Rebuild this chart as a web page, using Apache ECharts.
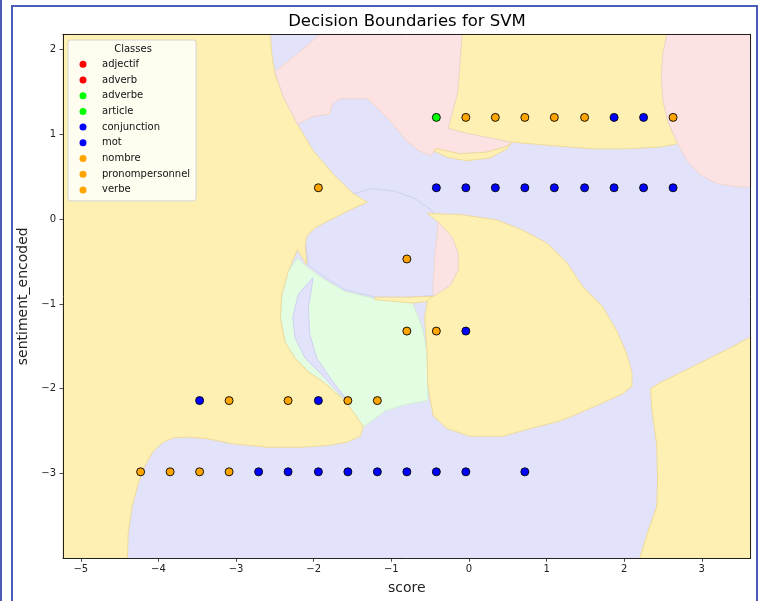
<!DOCTYPE html>
<html><head><meta charset="utf-8">
<script src="https://cdn.jsdelivr.net/npm/echarts@6/dist/echarts.min.js"></script>
<style>html,body{margin:0;padding:0;background:#fff}#c{width:764px;height:601px}</style>
</head><body><div id="c"></div>
<script>
// ---------- data ----------
const classNames = ['adjectif','adverb','adverbe','article','conjunction','mot','nombre','pronompersonnel','verbe'];
const xTickValues = [-5,-4,-3,-2,-1,0,1,2,3];
const yTickValues = [-3,-2,-1,0,1,2];
const xRange = [-5.23, 3.63];
const yRange = [-4.0, 2.18];

// sample points (score, sentiment_encoded) per class
const ptsAdjectif = [];
const ptsAdverb = [];
const ptsAdverbe = [[-0.42, 1.2]];
const ptsArticle = [];
const ptsConjunction = [];
const ptsMot = [
  [1.87,1.2],[2.25,1.2],
  [-0.42,0.37],[-0.04,0.37],[0.34,0.37],[0.72,0.37],[1.10,0.37],[1.49,0.37],[1.87,0.37],[2.25,0.37],[2.63,0.37],
  [-0.04,-1.32],
  [-3.47,-2.14],[-1.94,-2.14],
  [-2.71,-2.98],[-2.33,-2.98],[-1.94,-2.98],[-1.56,-2.98],[-1.18,-2.98],[-0.80,-2.98],[-0.42,-2.98],[-0.04,-2.98],[0.72,-2.98]
];
const ptsNombre = [];
const ptsPronompersonnel = [];
const ptsVerbe = [
  [-0.04,1.2],[0.34,1.2],[0.72,1.2],[1.10,1.2],[1.49,1.2],[2.63,1.2],
  [-1.94,0.37],
  [-0.80,-0.47],
  [-0.80,-1.32],[-0.42,-1.32],
  [-3.09,-2.14],[-2.33,-2.14],[-1.56,-2.14],[-1.18,-2.14],
  [-4.23,-2.98],[-3.85,-2.98],[-3.47,-2.98],[-3.09,-2.98]
];

// decision regions (boundary vertices in data units)
const regionEllipse = [[-2.11,-0.24],[-2.02,-0.07],[-1.81,0.11],[-1.53,0.29],[-1.25,0.36],[-0.95,0.33],[-0.69,0.24],[-0.50,0.12],[-0.37,-0.03],[-0.22,-0.21],[-0.14,-0.40],[-0.14,-0.60],[-0.24,-0.78],[-0.44,-0.90],[-0.79,-0.92],[-1.21,-0.92],[-1.60,-0.83],[-1.85,-0.69],[-2.07,-0.54]];
const regionCentreGreen = [[-2.09,-0.56],[-1.85,-0.72],[-1.60,-0.85],[-1.21,-0.94],[-0.73,-0.98],[-0.60,-1.28],[-0.54,-1.56],[-0.53,-1.84],[-0.53,-2.14],[-0.79,-2.18],[-1.08,-2.26],[-1.25,-2.38],[-1.36,-2.45],[-1.47,-2.30],[-1.60,-2.14],[-1.85,-1.94],[-2.07,-1.80],[-2.24,-1.64],[-2.37,-1.45],[-2.43,-1.16],[-2.41,-0.89],[-2.33,-0.62],[-2.21,-0.46]];
const regionCrescent = [[-2.01,-0.69],[-2.20,-0.89],[-2.27,-1.16],[-2.24,-1.40],[-2.11,-1.64],[-1.89,-1.84],[-1.69,-2.04],[-1.53,-2.18],[-1.60,-2.10],[-1.79,-1.87],[-1.96,-1.64],[-2.05,-1.36],[-2.07,-1.05],[-2.02,-0.77]];
const regionLeftYellow = [[-5.23,2.18],[-2.56,2.18],[-2.54,1.95],[-2.50,1.71],[-2.39,1.44],[-2.21,1.12],[-2.01,0.81],[-1.75,0.53],[-1.49,0.30],[-1.31,0.20],[-1.53,0.11],[-1.79,-0.01],[-1.98,-0.10],[-2.09,-0.20],[-2.11,-0.30],[-2.09,-0.54],[-2.21,-0.36],[-2.33,-0.62],[-2.41,-0.89],[-2.43,-1.16],[-2.37,-1.45],[-2.24,-1.64],[-2.07,-1.80],[-1.85,-1.94],[-1.60,-2.14],[-1.47,-2.30],[-1.36,-2.45],[-1.40,-2.56],[-1.57,-2.63],[-1.83,-2.67],[-2.18,-2.69],[-2.60,-2.69],[-3.04,-2.65],[-3.37,-2.59],[-3.63,-2.57],[-3.81,-2.58],[-3.94,-2.63],[-4.07,-2.74],[-4.20,-2.95],[-4.27,-3.15],[-4.34,-3.39],[-4.39,-3.70],[-4.40,-4.0],[-5.23,-4.0]];
const regionStripYellow = [[-1.21,-0.92],[-0.79,-0.92],[-0.46,-0.91],[-0.53,-0.97],[-0.73,-0.99],[-1.21,-0.95]];
const regionRightYellow = [[-0.54,0.07],[-0.08,0.05],[0.36,-0.01],[0.69,-0.13],[1.00,-0.28],[1.26,-0.51],[1.47,-0.80],[1.72,-1.03],[1.90,-1.31],[2.03,-1.58],[2.10,-1.81],[2.10,-1.97],[1.98,-2.06],[1.69,-2.18],[1.34,-2.32],[1.17,-2.38],[0.79,-2.47],[0.44,-2.56],[0.01,-2.56],[-0.28,-2.47],[-0.46,-2.32],[-0.50,-2.12],[-0.53,-1.94],[-0.54,-1.56],[-0.57,-1.16],[-0.53,-0.95],[-0.44,-0.90],[-0.24,-0.78],[-0.14,-0.60],[-0.14,-0.40],[-0.22,-0.21],[-0.40,-0.03]];
const regionPinkCrescent = [[-0.40,-0.03],[-0.22,-0.21],[-0.14,-0.40],[-0.14,-0.60],[-0.24,-0.78],[-0.46,-0.91],[-0.46,-0.77],[-0.44,-0.42],[-0.41,-0.19]];
const regionTopYellow = [[-0.09,2.18],[2.55,2.18],[2.50,1.95],[2.48,1.68],[2.50,1.40],[2.56,1.16],[2.65,0.97],[2.69,0.89],[2.46,0.85],[2.03,0.83],[1.60,0.83],[1.17,0.86],[0.79,0.89],[0.53,0.91],[0.31,0.95],[-0.03,1.01],[-0.27,1.07],[-0.22,1.24],[-0.15,1.48],[-0.12,1.80]];
const regionTopPink = [[-1.92,2.18],[-0.09,2.18],[-0.12,1.80],[-0.15,1.48],[-0.22,1.24],[-0.27,1.07],[-0.03,1.01],[0.31,0.95],[0.55,0.90],[0.49,0.86],[0.23,0.79],[-0.12,0.77],[-0.41,0.83],[-0.50,0.75],[-0.63,0.80],[-0.80,0.92],[-0.98,1.12],[-1.15,1.28],[-1.31,1.42],[-1.66,1.42],[-1.76,1.36],[-1.79,1.24],[-2.01,1.21],[-2.21,1.12],[-2.39,1.44],[-2.50,1.74],[-2.21,1.95]];
const regionThinYellow = [[-0.41,0.83],[-0.12,0.77],[0.23,0.79],[0.49,0.86],[0.55,0.90],[0.49,0.83],[0.27,0.72],[-0.03,0.69],[-0.28,0.73],[-0.46,0.81]];
const regionRightPink = [[2.55,2.18],[3.63,2.18],[3.63,0.38],[3.45,0.38],[3.19,0.42],[2.97,0.53],[2.81,0.69],[2.69,0.89],[2.65,0.97],[2.56,1.16],[2.50,1.40],[2.48,1.68],[2.50,1.95]];
const regionBottomRightYellow = [[2.20,-4.0],[3.63,-4.0],[3.63,-1.39],[3.32,-1.54],[2.88,-1.74],[2.46,-1.93],[2.34,-2.00],[2.36,-2.27],[2.42,-2.67],[2.43,-3.06],[2.42,-3.39],[2.30,-3.70]];

// ---------- styling ----------
const pointColors = ['#ff0000','#ff0000','#00ff00','#00ff00','#0000ff','#0000ff','#ffa500','#ffa500','#ffa500'];
const classPoints = [ptsAdjectif, ptsAdverb, ptsAdverbe, ptsArticle, ptsConjunction, ptsMot, ptsNombre, ptsPronompersonnel, ptsVerbe];
const fills = {
  blue:   {fill:'#e2e2fa', stroke:'#d0d1f2'},
  green:  {fill:'#e2fde2', stroke:'#d2efd2'},
  orange: {fill:'#feefb3', stroke:'#eedb9c'},
  red:    {fill:'#fde2e3', stroke:'#efd6cf'}
};
const regions = [
  {g:'blue', pts:regionEllipse},
  {g:'green', pts:regionCentreGreen},
  {g:'blue', pts:regionCrescent},
  {g:'orange', pts:regionLeftYellow},
  {g:'orange', pts:regionStripYellow},
  {g:'orange', pts:regionRightYellow},
  {g:'red', pts:regionPinkCrescent},
  {g:'orange', pts:regionTopYellow},
  {g:'red', pts:regionTopPink},
  {g:'orange', pts:regionThinYellow},
  {g:'red', pts:regionRightPink},
  {g:'orange', pts:regionBottomRightYellow}
];

const FONT = 'DejaVu Sans';
const fmt = v => (v < 0 ? '\u2212' + Math.abs(v) : String(v));
const chart = echarts.init(document.getElementById('c'), null, {renderer:'canvas'});

const series = [{
  type:'custom', coordinateSystem:'cartesian2d', silent:true, z:1,
  data: regions.map(r => r.pts[0]),
  renderItem: (params, api) => {
    const r = regions[params.dataIndex];
    const s = fills[r.g];
    return {type:'polygon', shape:{points:r.pts.map(p => api.coord(p))},
            style:{fill:s.fill, stroke:s.stroke, lineWidth:1}};
  }
}];
classNames.forEach((n, i) => {
  series.push({
    type:'scatter', name:n, data:classPoints[i], z:6,
    symbol:'circle', symbolSize:8,
    itemStyle:{color:pointColors[i], borderColor:'#000', borderWidth:0.9, opacity:1}
  });
});

const axisText = {fontSize:10, fontFamily:FONT, color:'#222'};
chart.setOption({
  animation:false,
  backgroundColor:'#fff',
  grid:{left:63, right:13.3, top:34.3, bottom:42.7, show:true, backgroundColor:'#e2e2fa', borderWidth:0},
  xAxis:[{
    type:'value', min:xRange[0], max:xRange[1], position:'bottom', z:5,
    axisLine:{onZero:false, lineStyle:{color:'#222', width:1}},
    axisTick:{show:true, inside:false, length:3.5, customValues:xTickValues, lineStyle:{color:'#222', width:0.8}},
    axisLabel:Object.assign({customValues:xTickValues, formatter:fmt, margin:6}, axisText),
    splitLine:{show:false},
    name:'score', nameLocation:'middle', nameGap:23,
    nameTextStyle:{fontSize:14, fontFamily:FONT, color:'#222'}
  },{
    type:'value', min:xRange[0], max:xRange[1], position:'top', z:5,
    axisLine:{onZero:false, lineStyle:{color:'#222', width:1}},
    axisTick:{show:false}, axisLabel:{show:false}, splitLine:{show:false}
  }],
  yAxis:[{
    type:'value', min:yRange[0], max:yRange[1], position:'left', z:5,
    axisLine:{onZero:false, lineStyle:{color:'#222', width:1}},
    axisTick:{show:true, inside:false, length:3.5, customValues:yTickValues, lineStyle:{color:'#222', width:0.8}},
    axisLabel:Object.assign({customValues:yTickValues, formatter:fmt, margin:7}, axisText),
    splitLine:{show:false},
    name:'sentiment_encoded', nameLocation:'middle', nameGap:25,
    nameTextStyle:{fontSize:14, fontFamily:FONT, color:'#222'}
  },{
    type:'value', min:yRange[0], max:yRange[1], position:'right', z:5,
    axisLine:{onZero:false, lineStyle:{color:'#222', width:1}},
    axisTick:{show:false}, axisLabel:{show:false}, splitLine:{show:false}
  }],
  legend:{
    data:classNames, orient:'vertical', left:68, top:40,
    padding:[18.3, 6, 5, 11.5], itemGap:3.7, itemWidth:28, itemHeight:7, icon:'circle',
    selectedMode:false,
    itemStyle:{borderWidth:0},
    textStyle:{fontSize:10, fontFamily:FONT, color:'#111', lineHeight:12},
    backgroundColor:'rgba(255,255,255,0.8)', borderColor:'#d4d4d4', borderWidth:1, borderRadius:3, z:8
  },
  graphic:[
    {type:'text', x:407, y:21.7, z:20, style:{text:'Decision Boundaries for SVM', fill:'#000', font:'16.5px "DejaVu Sans"', align:'center', verticalAlign:'middle'}},
    {type:'text', x:133, y:49, z:20, style:{text:'Classes', fill:'#111', font:'10px "DejaVu Sans"', align:'center', verticalAlign:'middle'}},
    {type:'rect', z:20, shape:{x:12, y:6, width:745, height:610}, style:{fill:'none', stroke:'#4a5cb8', lineWidth:2}},
    {type:'line', z:20, shape:{x1:1, y1:0, x2:1, y2:601}, style:{stroke:'#4a5cb8', lineWidth:2}}
  ],
  series
});
</script></body></html>
